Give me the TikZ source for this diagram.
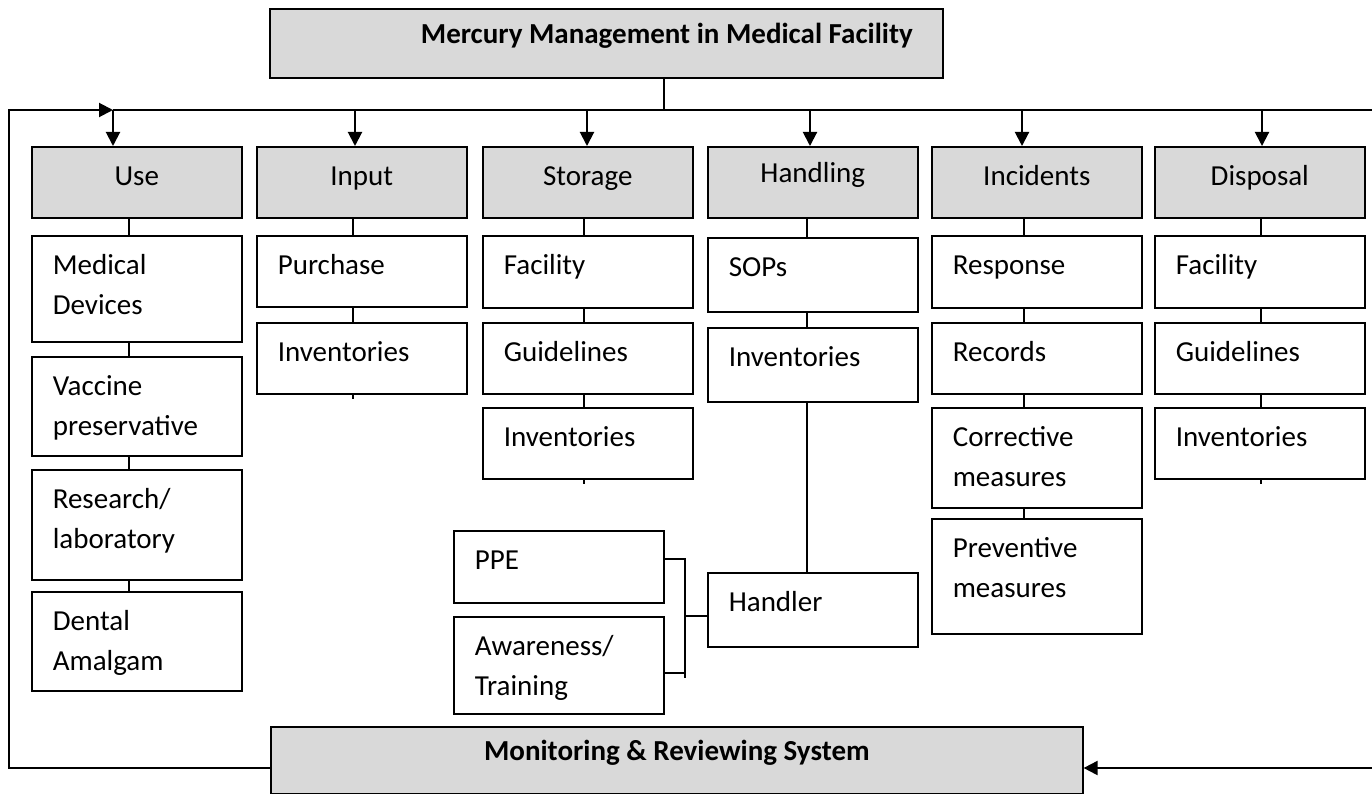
\documentclass[tikz,border=0pt]{standalone}
\usepackage{fontspec}
\setmainfont{Carlito}
\usetikzlibrary{arrows.meta}
\definecolor{headgray}{HTML}{D9D9D9}
% text of a white box: fixed height, first line near the top
\newcommand{\boxtext}[2]{\parbox[c][#1][t]{168pt}{\rule{0pt}{39pt}#2}}

\begin{document}
\begin{tikzpicture}[x=1pt, y=-1pt,
    every node/.style={font=\fontsize{29}{40}\selectfont},
    head/.style={draw, line width=1.6pt, fill=headgray, anchor=north west,
      minimum width=210pt, minimum height=71pt, inner sep=0pt,
      text height=20pt, text depth=14pt},
    item/.style={draw, line width=1.6pt, fill=white, anchor=north west,
      inner xsep=21pt, inner ysep=0pt},
    main/.style={draw, line width=1.6pt, fill=headgray, anchor=north west,
      inner sep=0pt, text height=14pt, text depth=14pt,
      font=\fontsize{29}{40}\selectfont\bfseries},
    link/.style={line width=1.3pt},
    feed/.style={line width=2pt, -{Triangle[width=14pt,length=14pt]}}]
  \useasboundingbox (0,0) rectangle (1372,794);

  \node[main, minimum width=673pt, minimum height=69pt, inner xsep=30pt,
    text width=613pt, align=flush right] (title) at (269,8)
    {Mercury Management in Medical Facility};
  \node[main, minimum width=812pt, minimum height=67pt] (mon) at (270,726)
    {Monitoring \& Reviewing System};

  % the six headings
  \node[head] (use) at (31,146) {Use};
  \node[head] (inp) at (256,146) {Input};
  \node[head] (sto) at (482,146) {Storage};
  \node[head, text depth=19pt] (hdl) at (707,146) {Handling};
  \node[head] (inc) at (931,146) {Incidents};
  \node[head] (dis) at (1154,146) {Disposal};

  % boxes under each heading
  \node[item] (use1) at (31,235) {\boxtext{106pt}{Medical\\Devices}};
  \node[item] (use2) at (31,356) {\boxtext{99pt}{Vaccine\\preservative}};
  \node[item] (use3) at (31,469) {\boxtext{110pt}{Research/\\laboratory}};
  \node[item] (use4) at (31,591) {\boxtext{99pt}{Dental\\Amalgam}};

  \node[item] (inp1) at (256,235) {\boxtext{71pt}{Purchase}};
  \node[item] (inp2) at (256,322) {\boxtext{71pt}{Inventories}};

  \node[item] (sto1) at (482,235) {\boxtext{72pt}{Facility}};
  \node[item] (sto2) at (482,322) {\boxtext{71pt}{Guidelines}};
  \node[item] (sto3) at (482,407) {\boxtext{71pt}{Inventories}};

  \node[item] (hdl1) at (707,237) {\boxtext{74pt}{SOPs}};
  \node[item] (hdl2) at (707,327) {\boxtext{74pt}{Inventories}};
  \node[item] (hdl3) at (707,572) {\boxtext{74pt}{Handler}};
  \node[item] (ppe) at (453,530) {\boxtext{72pt}{PPE}};
  \node[item] (awr) at (453,616) {\boxtext{97pt}{Awareness/\\Training}};

  \node[item] (inc1) at (931,235) {\boxtext{72pt}{Response}};
  \node[item] (inc2) at (931,322) {\boxtext{71pt}{Records}};
  \node[item] (inc3) at (931,407) {\boxtext{100pt}{Corrective\\measures}};
  \node[item] (inc4) at (931,518) {\boxtext{115pt}{Preventive\\measures}};

  \node[item] (dis1) at (1154,235) {\boxtext{72pt}{Facility}};
  \node[item] (dis2) at (1154,322) {\boxtext{71pt}{Guidelines}};
  \node[item] (dis3) at (1154,407) {\boxtext{71pt}{Inventories}};

  % bus and feedback loop
  \coordinate (tj) at (664,110);
  \coordinate (be) at (1372,110);
  \coordinate (a1) at (113,110);
  \coordinate (a2) at (355,110);
  \coordinate (a3) at (587,110);
  \coordinate (a4) at (810,110);
  \coordinate (a5) at (1022,110);
  \coordinate (a6) at (1262,110);
  \coordinate (ml) at (9,768);
  \coordinate (mr) at (1372,768);

  \draw[link] (tj |- title.south) -- (tj);
  \draw[line width=1.6pt] (a1) -- (be);
  \draw[feed] (a1) -- (a1 |- use.north);
  \draw[feed] (a2) -- (a2 |- inp.north);
  \draw[feed] (a3) -- (a3 |- sto.north);
  \draw[feed] (a4) -- (a4 |- hdl.north);
  \draw[feed] (a5) -- (a5 |- inc.north);
  \draw[feed] (a6) -- (a6 |- dis.north);
  \draw[feed] (ml -| mon.west) -- (ml) -- (ml |- a1) -- (a1);
  \draw[feed] (mr) -- (mr -| mon.east);

  % columns
  \coordinate (c1) at (129,0);
  \coordinate (c2) at (353,0);
  \coordinate (c3) at (584,0);
  \coordinate (c4) at (807,0);
  \coordinate (c5) at (1024,0);
  \coordinate (c6) at (1261,0);
  \begin{scope}[link]
    \draw (use.south -| c1) to (use1.north -| c1);
    \draw (use1.south -| c1) to (use2.north -| c1);
    \draw (use2.south -| c1) to (use3.north -| c1);
    \draw (use3.south -| c1) to (use4.north -| c1);
    \draw (inp.south -| c2) to (inp1.north -| c2);
    \draw (inp1.south -| c2) to (inp2.north -| c2);
    \draw (inp2.south -| c2) to ++(0,4);
    \draw (sto.south -| c3) to (sto1.north -| c3);
    \draw (sto1.south -| c3) to (sto2.north -| c3);
    \draw (sto2.south -| c3) to (sto3.north -| c3);
    \draw (sto3.south -| c3) to ++(0,4);
    \draw (hdl.south -| c4) to (hdl1.north -| c4);
    \draw (hdl1.south -| c4) to (hdl2.north -| c4);
    \draw (hdl2.south -| c4) to (hdl3.north -| c4);
    \draw (inc.south -| c5) to (inc1.north -| c5);
    \draw (inc1.south -| c5) to (inc2.north -| c5);
    \draw (inc2.south -| c5) to (inc3.north -| c5);
    \draw (inc3.south -| c5) to (inc4.north -| c5);
    \draw (dis.south -| c6) to (dis1.north -| c6);
    \draw (dis1.south -| c6) to (dis2.north -| c6);
    \draw (dis2.south -| c6) to (dis3.north -| c6);
    \draw (dis3.south -| c6) to ++(0,4);
  \end{scope}

  % bracket joining PPE and training to the handler
  \coordinate (bt) at (685,559);
  \coordinate (bm) at (685,616);
  \coordinate (ba) at (685,673);
  \coordinate (bb) at (685,678);
  \begin{scope}[link]
    \draw (bt -| ppe.east) to (bt) to (bb);
    \draw (ba -| awr.east) to (ba);
    \draw (bm) to (bm -| hdl3.west);
  \end{scope}
\end{tikzpicture}
\end{document}
